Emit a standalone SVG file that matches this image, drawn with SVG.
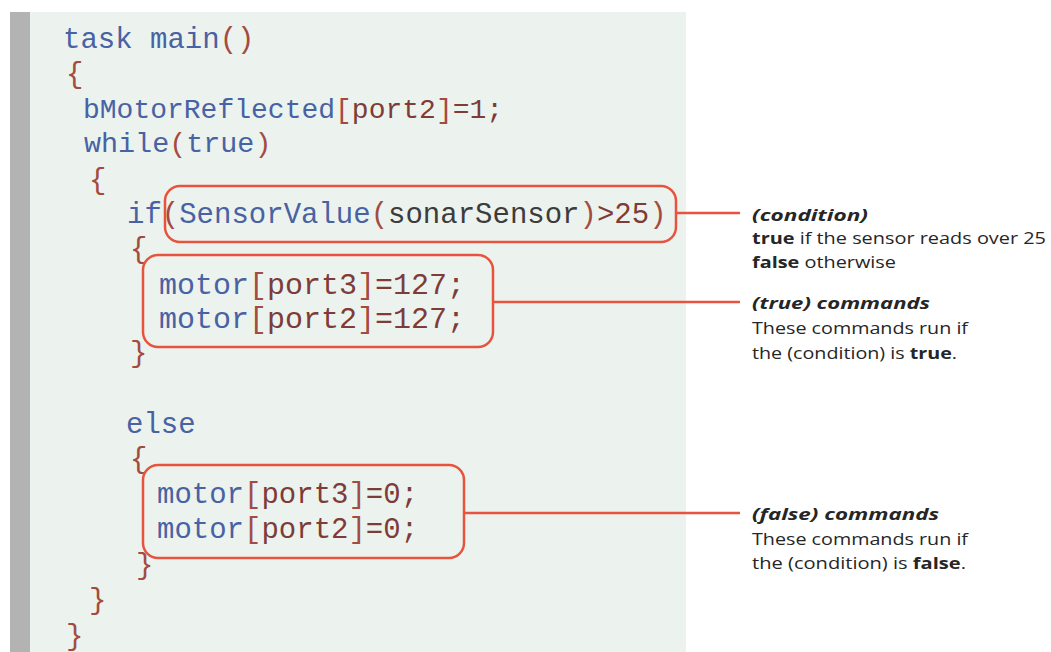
<svg xmlns="http://www.w3.org/2000/svg" width="1051" height="652" viewBox="0 0 1051 652">
  <style>
    .code { font-family: "Liberation Mono", "DejaVu Sans Mono", monospace; font-size: 29px; fill: #4862A3; }
    .b { fill: #A34B40; }
    .m { fill: #7D3C38; }
    .g { fill: #3C3C3C; }
    .note { font-family: "Open Sans", "DejaVu Sans", sans-serif; font-size: 16.5px; fill: #262626; }
    .head { font-weight: bold; font-style: italic; }
    .strong { font-weight: bold; }
    .box { fill: none; stroke: #E8533F; stroke-width: 2.5; }
    .lead { stroke: #E8533F; stroke-width: 2.5; fill: none; }
  </style>

  <!-- page -->
  <rect x="0" y="0" width="1051" height="652" fill="#FFFFFF"/>
  <rect x="10" y="12" width="20" height="640" fill="#B3B3B3"/>
  <rect x="30" y="12" width="656" height="640" fill="#ECF3EE"/>

  <!-- program listing -->
  <g id="code">
    <text class="code" x="63" y="48">task main<tspan class="b">()</tspan></text>
    <text class="code b" x="66" y="83">{</text>
    <text class="code" x="83" y="118" style="font-size:28px">bMotorReflected<tspan class="b">[</tspan><tspan class="m">port2</tspan><tspan class="b">]</tspan><tspan class="m">=1;</tspan></text>
    <text class="code" x="84" y="152" style="font-size:28.4px">while<tspan class="b">(</tspan>true<tspan class="b">)</tspan></text>
    <text class="code b" x="89" y="189">{</text>
    <text class="code" x="127" y="223">if<tspan class="b">(</tspan>SensorValue<tspan class="b">(</tspan><tspan class="g">sonarSensor</tspan><tspan class="b">)</tspan><tspan class="m">&gt;25</tspan><tspan class="b">)</tspan></text>
    <text class="code b" x="130" y="258">{</text>
    <text class="code" x="159" y="294" style="font-size:30px">motor<tspan class="b">[</tspan><tspan class="m">port3</tspan><tspan class="b">]</tspan><tspan class="m">=127;</tspan></text>
    <text class="code" x="159" y="328" style="font-size:30px">motor<tspan class="b">[</tspan><tspan class="m">port2</tspan><tspan class="b">]</tspan><tspan class="m">=127;</tspan></text>
    <text class="code b" x="130" y="362">}</text>
    <text class="code" x="126" y="433">else</text>
    <text class="code b" x="130" y="468">{</text>
    <text class="code" x="157" y="503">motor<tspan class="b">[</tspan><tspan class="m">port3</tspan><tspan class="b">]</tspan><tspan class="m">=0;</tspan></text>
    <text class="code" x="157" y="538">motor<tspan class="b">[</tspan><tspan class="m">port2</tspan><tspan class="b">]</tspan><tspan class="m">=0;</tspan></text>
    <text class="code b" x="136" y="574">}</text>
    <text class="code b" x="89" y="609">}</text>
    <text class="code b" x="66" y="645">}</text>
  </g>

  <!-- highlighted regions -->
  <g id="condition-box">
    <rect class="box" x="165" y="186" width="511" height="56" rx="15"/>
  </g>
  <g id="true-box">
    <rect class="box" x="143" y="255" width="350" height="92" rx="15"/>
  </g>
  <g id="false-box">
    <rect class="box" x="143" y="465" width="321" height="93" rx="15"/>
  </g>

  <!-- leader lines -->
  <g id="connectors">
    <line class="lead" x1="676" y1="213" x2="740" y2="213"/>
    <line class="lead" x1="493" y1="302" x2="740" y2="302"/>
    <line class="lead" x1="464" y1="513" x2="740" y2="513"/>
  </g>

  <!-- annotations -->
  <g id="condition-note">
    <text class="note head" x="752" y="221" textLength="116" lengthAdjust="spacingAndGlyphs">(condition)</text>
    <text class="note" x="752" y="244" textLength="294" lengthAdjust="spacingAndGlyphs"><tspan class="strong">true</tspan> if the sensor reads over 25</text>
    <text class="note" x="752" y="268" textLength="144" lengthAdjust="spacingAndGlyphs"><tspan class="strong">false</tspan> otherwise</text>
  </g>
  <g id="true-note">
    <text class="note head" x="752" y="309" textLength="178" lengthAdjust="spacingAndGlyphs">(true) commands</text>
    <text class="note" x="752" y="334" textLength="216" lengthAdjust="spacingAndGlyphs">These commands run if</text>
    <text class="note" x="752" y="359" textLength="205" lengthAdjust="spacingAndGlyphs">the (condition) is <tspan class="strong">true</tspan>.</text>
  </g>
  <g id="false-note">
    <text class="note head" x="752" y="520" textLength="187" lengthAdjust="spacingAndGlyphs">(false) commands</text>
    <text class="note" x="752" y="545" textLength="216" lengthAdjust="spacingAndGlyphs">These commands run if</text>
    <text class="note" x="752" y="569" textLength="214" lengthAdjust="spacingAndGlyphs">the (condition) is <tspan class="strong">false</tspan>.</text>
  </g>
</svg>
